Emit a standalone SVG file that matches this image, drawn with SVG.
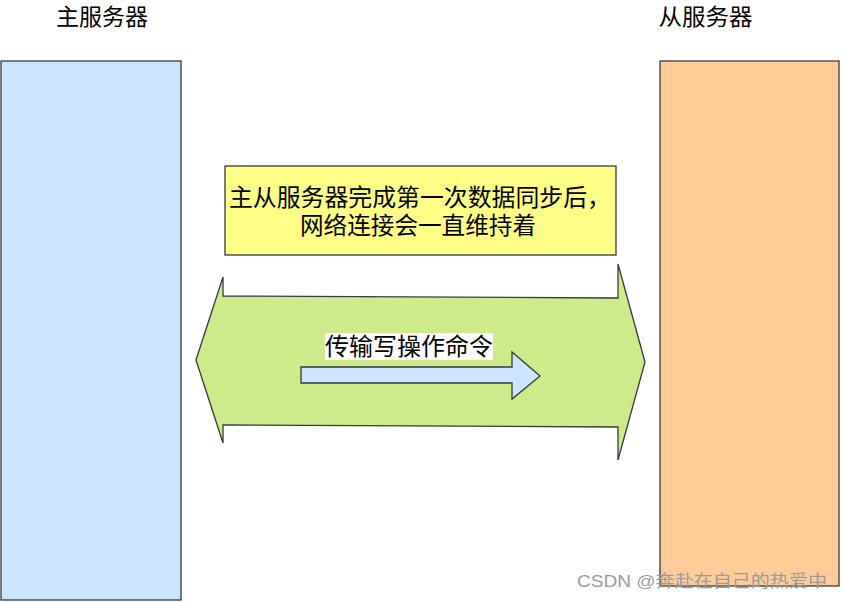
<svg xmlns="http://www.w3.org/2000/svg" width="842" height="602" viewBox="0 0 842 602">
<style>
.t{font-family:"Liberation Sans","Noto Sans CJK SC",sans-serif;font-size:24px;fill:#000}
.h{font-size:23px}
.n{font-size:23.5px}
.s{stroke:#36393d;stroke-width:1.3}
</style>
<rect width="842" height="602" fill="#fff"/>
<g id="master">
<rect class="s" x="1" y="61" width="180" height="539" fill="#cce5ff"/>
<text class="t h" x="102" y="24.5" text-anchor="middle" textLength="92" lengthAdjust="spacingAndGlyphs">主服务器</text>
</g>
<g id="slave">
<rect class="s" x="660" y="61" width="179" height="525" fill="#ffcc99"/>
<text class="t h" x="705.5" y="24.5" text-anchor="middle" textLength="94" lengthAdjust="spacingAndGlyphs">从服务器</text>
</g>
<g id="note">
<rect class="s" x="225" y="166" width="391" height="89" fill="#ffff88"/>
<text class="t n" x="420" y="205.5" text-anchor="middle" textLength="382" lengthAdjust="spacingAndGlyphs">主从服务器完成第一次数据同步后，</text>
<text class="t n" x="418" y="234" text-anchor="middle" textLength="236" lengthAdjust="spacingAndGlyphs">网络连接会一直维持着</text>
</g>
<g id="connectors">
<polygon class="s" fill="#cdeb8b" points="196,360 223,277 223,296 618,298 618,264 645,362 618,460 618,427 223,425 223,443"/>
<polygon class="s" fill="#cce5ff" points="301,367 512,367 512,352 540,376 512,399 512,383 301,383"/>
<rect x="325" y="333" width="168" height="27" fill="#fff"/>
<text class="t" x="409" y="355" text-anchor="middle">传输写操作命令</text>
</g>
<text x="577" y="587" font-family="Liberation Sans,'Noto Sans CJK SC',sans-serif" font-size="17" fill="#9a9a9a" textLength="250" lengthAdjust="spacingAndGlyphs">CSDN @奔赴在自己的热爱中</text>
</svg>
